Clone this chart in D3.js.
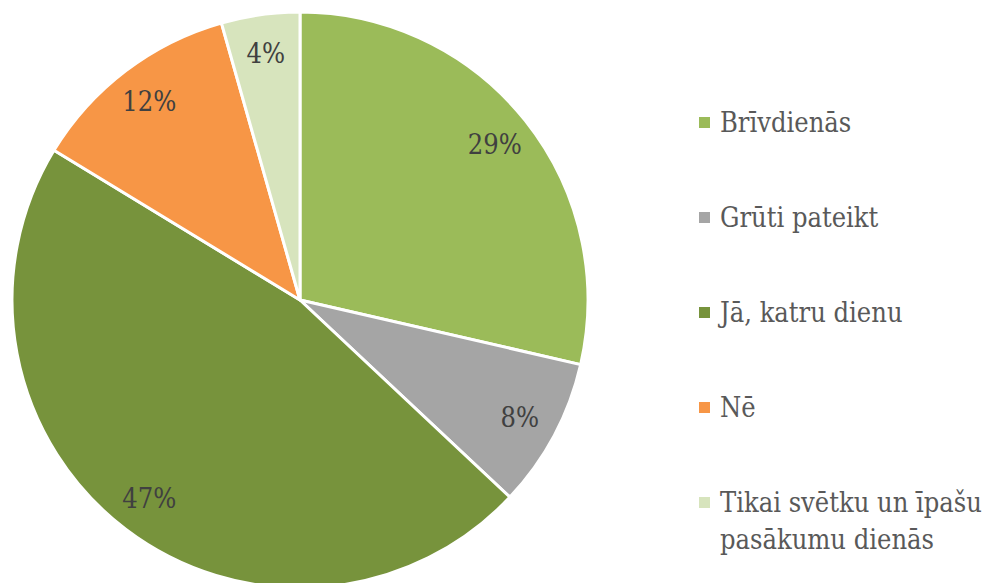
<!DOCTYPE html>
<html><head><meta charset="utf-8">
<script src="https://cdn.jsdelivr.net/npm/d3@7"></script>
<style>body{margin:0;background:#fff}svg{display:block}</style>
</head><body>
<svg id="c" width="989" height="583"></svg>
<script>
const categories = ["Brīvdienās", "Grūti pateikt", "Jā, katru dienu", "Nē", "Tikai svētku un īpašu pasākumu dienās"];
const values = [28.6, 8.4, 46.7, 11.9, 4.4];
const labels = ["29%", "8%", "47%", "12%", "4%"];
const colors = ["#9BBB59", "#A5A5A5", "#77933C", "#F79646", "#D7E4BD"];
const legendLines = [["Brīvdienās"], ["Grūti pateikt"], ["Jā, katru dienu"], ["Nē"], ["Tikai svētku un īpašu", "pasākumu dienās"]];

const svg = d3.select("#c");
const font = "'DejaVu Serif Condensed','DejaVu Serif',serif";
const cx = 300, cy = 300, R = 288, LR = 249;
const pie = d3.pie().sort(null).value(d => d)(values);
const arc = d3.arc().innerRadius(0).outerRadius(R);
const larc = d3.arc().innerRadius(LR).outerRadius(LR);
const g = svg.append("g").attr("transform", `translate(${cx},${cy})`);
g.selectAll("path").data(pie).join("path")
  .attr("d", arc).attr("fill", (d, i) => colors[i])
  .attr("stroke", "#fff").attr("stroke-width", 3).attr("stroke-linejoin", "round");
g.selectAll("text").data(pie).join("text")
  .attr("transform", d => `translate(${larc.centroid(d)})`)
  .attr("text-anchor", "middle").attr("dy", "0.35em")
  .attr("font-family", font).attr("font-size", 27).attr("fill", "#404040")
  .text((d, i) => labels[i]);

const lg = svg.append("g");
const y0 = 123, step = 95;
categories.forEach((c, i) => {
  const y = y0 + i * step;
  lg.append("rect").attr("x", 699).attr("y", y - 6).attr("width", 11).attr("height", 11).attr("fill", colors[i]);
  const t = lg.append("text").attr("x", 720).attr("y", y)
    .attr("font-family", font).attr("font-size", 27).attr("fill", "#595959");
  legendLines[i].forEach((ln, j) => {
    t.append("tspan").attr("x", 720).attr("dy", j === 0 ? "0.35em" : 37).text(ln);
  });
});
</script>
</body></html>
